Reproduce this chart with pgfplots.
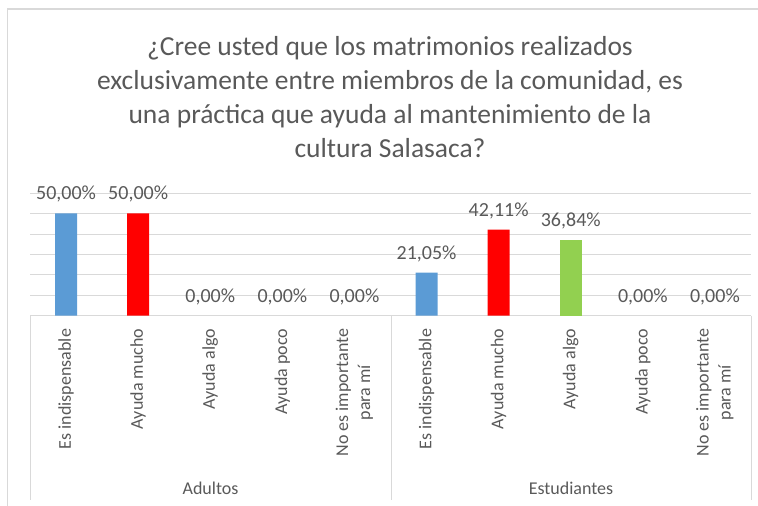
\documentclass[border=0pt]{standalone}
\usepackage{fontspec}
\setmainfont{Carlito}
\usepackage{pgfplots}
\pgfplotsset{compat=1.18}
\definecolor{cblue}{HTML}{5B9BD5}
\definecolor{cred}{HTML}{FF0000}
\definecolor{cgreen}{HTML}{92D050}
\definecolor{cgrid}{HTML}{D9D9D9}
\definecolor{ctext}{HTML}{595959}
\begin{document}
\begin{tikzpicture}
\path[use as bounding box] (0bp,0bp) rectangle (758bp,506bp);
\draw[cgrid,line width=1.5bp] (7.5bp,-2bp) -- (7.5bp,497bp) -- (760bp,497bp);
\node[text=ctext,font=\fontsize{27.5bp}{34bp}\selectfont,align=center] at (390bp,409bp) {¿Cree usted que los matrimonios realizados\\exclusivamente entre miembros de la comunidad, es\\una práctica que ayuda al mantenimiento de la\\cultura Salasaca?};
\begin{axis}[at={(30bp,190.3bp)}, anchor=south west, scale only axis,
  width=721bp, height=122.7bp,
  xmin=0.5, xmax=10.5, ymin=0, ymax=60,
  ytick={0,10,...,60}, yticklabels={},
  ymajorgrids, grid style={cgrid,line width=0.8bp},
  axis line style={draw=none},
  major tick length=0pt,
  xtick={1,...,10},
  xticklabels={Es indispensable,Ayuda mucho,Ayuda algo,Ayuda poco,{No es importante\\para mí},Es indispensable,Ayuda mucho,Ayuda algo,Ayuda poco,{No es importante\\para mí}},
  xticklabel shift=13bp,
  xticklabel style={rotate=90,anchor=east,align=center,inner sep=0pt,text=ctext,font=\fontsize{18bp}{22bp}\selectfont},
  clip=false,
  ybar, bar width=22bp, bar shift=0pt,
  /pgf/number format/assume math mode=true,
]
\addplot[fill=cblue,draw=none] coordinates {(1,50) (6,21.05)};
\addplot[fill=cred,draw=none] coordinates {(2,50) (7,42.11)};
\addplot[fill=cgreen,draw=none] coordinates {(8,36.84)};
\addplot[draw=none,fill=none,
  nodes near coords={\pgfmathprintnumber[fixed,fixed zerofill,precision=2,use comma]{\pgfplotspointmeta}\%},
  every node near coord/.append style={anchor=center,yshift=19bp,text=ctext,inner sep=0pt,font=\fontsize{20bp}{24bp}\selectfont}]
  coordinates {(1,50) (2,50) (3,0) (4,0) (5,0) (6,21.05) (7,42.11) (8,36.84) (9,0) (10,0)};
\end{axis}
\draw[cgrid,line width=0.8bp] (30bp,190.3bp) -- (30bp,6bp);
\draw[cgrid,line width=0.8bp] (391bp,190.3bp) -- (391bp,6bp);
\draw[cgrid,line width=0.8bp] (751bp,190.3bp) -- (751bp,6bp);
\node[text=ctext,font=\fontsize{18bp}{22bp}\selectfont] at (210.5bp,18bp) {Adultos};
\node[text=ctext,font=\fontsize{18bp}{22bp}\selectfont] at (571bp,18bp) {Estudiantes};
\end{tikzpicture}
\end{document}
